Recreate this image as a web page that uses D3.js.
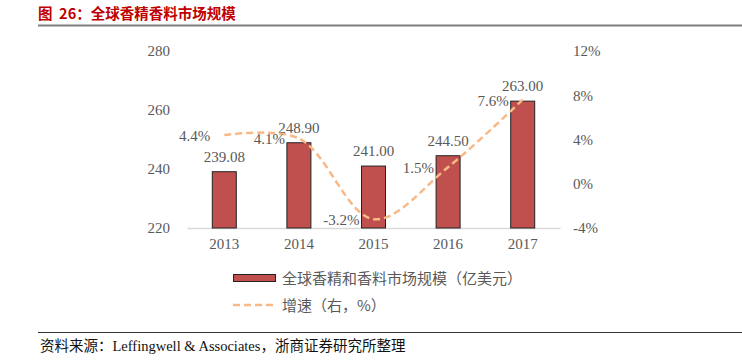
<!DOCTYPE html>
<html><head><meta charset="utf-8">
<script src="https://cdn.jsdelivr.net/npm/d3@7/dist/d3.min.js"></script>
<style>
body{margin:0;background:#fff;}
svg{display:block;}
</style></head>
<body>
<svg id="c" width="742" height="360"></svg>
<script>
const categories = ["2013","2014","2015","2016","2017"];
const marketSize = [239.08, 248.90, 241.00, 244.50, 263.00];
const growth = [4.4, 4.1, -3.2, 1.5, 7.6];
const leftTicks = [220, 240, 260, 280];
const rightTicks = [-4, 0, 4, 8, 12];
const titleText = "图\u00a0\u00a026：全球香精香料市场规模";
const legendBar = "全球香精和香料市场规模（亿美元）";
const legendLine = "增速（右，%）";
const sourceText = "资料来源：Leffingwell & Associates，浙商证券研究所整理";

const svg = d3.select("#c");
const serif = "'Liberation Serif','Times New Roman','Noto Sans CJK SC',serif";
const cjk = "'Noto Sans CJK SC','Liberation Serif',sans-serif";

// title
svg.append("text").attr("x",38).attr("y",18.5).attr("fill","#c00000")
  .attr("font-family","'Noto Sans CJK SC',sans-serif").attr("font-weight","bold")
  .attr("font-size",14.5).text(titleText);
svg.append("line").attr("x1",38).attr("x2",742).attr("y1",25.5).attr("y2",25.5)
  .attr("stroke","#7f7f7f").attr("stroke-width",2);

const x = d3.scaleBand().domain(categories).range([187,560]);
const yL = d3.scaleLinear().domain([220,280]).range([228,51]);
const yR = d3.scaleLinear().domain([-4,12]).range([228,51]);

// left axis
const la = svg.append("g").attr("transform","translate(170,0)")
  .call(d3.axisLeft(yL).tickValues(leftTicks).tickSize(0).tickPadding(0));
la.select(".domain").remove();
la.selectAll("text").attr("font-family",serif).attr("font-size",15).attr("fill","#595959");

// right axis
const ra = svg.append("g").attr("transform","translate(573,0)")
  .call(d3.axisRight(yR).tickValues(rightTicks).tickSize(0).tickPadding(0).tickFormat(d=>d+"%"));
ra.select(".domain").remove();
ra.selectAll("text").attr("font-family",serif).attr("font-size",15).attr("fill","#595959");

// bottom axis
const ba = svg.append("g").attr("transform","translate(0,228)")
  .call(d3.axisBottom(x).tickSize(0).tickPadding(10));
ba.select(".domain").attr("stroke","#d9d9d9").attr("stroke-width",1.5);
ba.selectAll("text").attr("font-family",serif).attr("font-size",15).attr("fill","#595959");

// bars
const bw = 24;
svg.append("g").selectAll("rect").data(marketSize).join("rect")
  .attr("x",(d,i)=>x(categories[i])+x.bandwidth()/2-bw/2)
  .attr("y",d=>yL(d))
  .attr("width",bw)
  .attr("height",d=>yL(220)-yL(d))
  .attr("fill","#c0504d").attr("stroke","#222").attr("stroke-width",1);

svg.append("g").selectAll("text").data(marketSize).join("text")
  .attr("x",(d,i)=>x(categories[i])+x.bandwidth()/2)
  .attr("y",d=>yL(d)-10)
  .attr("text-anchor","middle")
  .attr("font-family",serif).attr("font-size",15).attr("fill","#595959")
  .text(d=>d.toFixed(2));

// line
const line = d3.line()
  .x((d,i)=>x(categories[i])+x.bandwidth()/2)
  .y(d=>yR(d))
  .curve(d3.curveCatmullRom.alpha(0.5));
svg.append("path").datum(growth).attr("d",line)
  .attr("fill","none").attr("stroke","#f9b987").attr("stroke-width",2.5)
  .attr("stroke-dasharray","7,4");

svg.append("g").selectAll("text").data(growth).join("text")
  .attr("x",(d,i)=>x(categories[i])+x.bandwidth()/2-14)
  .attr("y",d=>yR(d)+6)
  .attr("text-anchor","end")
  .attr("font-family",serif).attr("font-size",15).attr("fill","#595959")
  .text(d=>d.toFixed(1)+"%");

// legend
svg.append("rect").attr("x",233.5).attr("y",274.5).attr("width",42).attr("height",7)
  .attr("fill","#c0504d").attr("stroke","#222").attr("stroke-width",1);
svg.append("text").attr("x",282).attr("y",283.5).attr("font-family",cjk).attr("font-size",15)
  .attr("fill","#595959").text(legendBar);
svg.append("line").attr("x1",233).attr("x2",276).attr("y1",305).attr("y2",305)
  .attr("stroke","#f9b987").attr("stroke-width",2.5).attr("stroke-dasharray","7,4");
svg.append("text").attr("x",282).attr("y",310.5).attr("font-family",cjk).attr("font-size",15)
  .attr("fill","#595959").text(legendLine);

// footer
svg.append("line").attr("x1",38).attr("x2",742).attr("y1",332.5).attr("y2",332.5)
  .attr("stroke","#333").attr("stroke-width",1);
svg.append("text").attr("x",40).attr("y",350.5).attr("font-family",serif).attr("font-size",14.5)
  .attr("fill","#111").text(sourceText);
</script>
</body></html>
